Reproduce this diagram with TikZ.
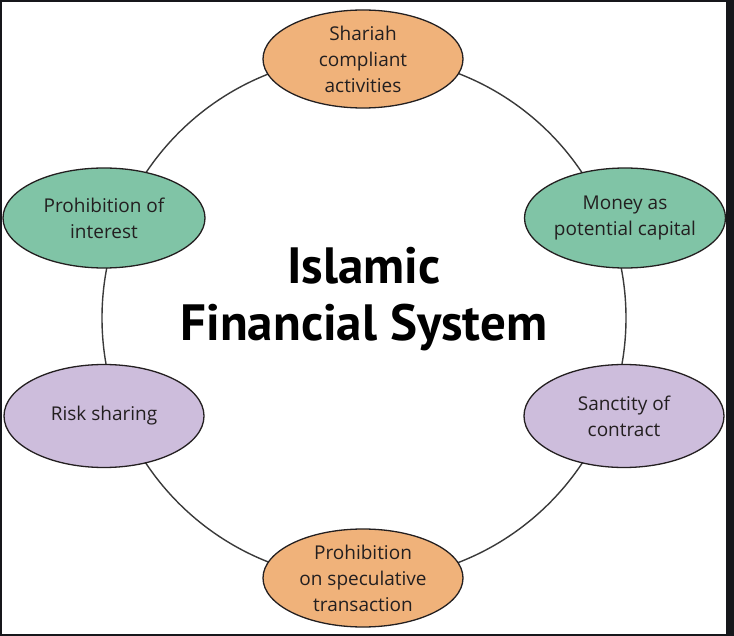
\documentclass[tikz,border=0pt]{standalone}
\usepackage{fontspec}
\setmainfont{Open Sans}
\newfontfamily\titlefont{PT Sans}
\usepackage{tikz}
\usetikzlibrary{shapes.geometric}
\definecolor{frame}   {HTML}{16171B}
\definecolor{ink}     {HTML}{231F20}
\definecolor{ringgray}{HTML}{3A3A3A}
\definecolor{orangefl}{HTML}{F0B27A}
\definecolor{greenfl} {HTML}{80C4A6}
\definecolor{lilacfl} {HTML}{CDBDDC}
\tikzset{
  pillar/.style  ={ellipse, draw=ink, line width=1.3pt,
                   minimum width=200pt, minimum height=100pt, inner sep=0pt,
                   align=center, text=ink, font=\fontsize{19}{26}\selectfont},
  orangep/.style ={pillar, fill=orangefl},
  greenp/.style  ={pillar, fill=greenfl},
  lilacp/.style  ={pillar, fill=lilacfl},
  titletext/.style={align=center, text=black, font=\titlefont\fontsize{51}{57}\selectfont\bfseries},
}
\begin{document}
\begin{tikzpicture}[x=1pt,y=-1pt]
    % frame
    \fill[frame] (0,0) rectangle (734,636);
    \fill[white] (2,2) rectangle (726,634);
    \useasboundingbox (0,0) rectangle (734,636);

    \coordinate (hub) at (364,318);
    \draw[ringgray, line width=1.4pt] (hub) circle (262);

    \node[titletext] (title) at (364,299) {Islamic\\Financial System};

    \node[orangep, minimum height=98pt] (shariah) at (363,59) {Shariah\\compliant\\activities};
    \node[greenp] (money) at (625,218) {Money as\\potential capital};
    \node[lilacp, minimum height=103pt] (sanctity) at (624,416) {Sanctity of\\contract};
    \node[orangep, minimum height=98pt] (specul) at (363,578) {Prohibition\\on speculative\\transaction};
    \node[lilacp, minimum height=103pt] (risk) at (104,416) {Risk sharing};
    \node[greenp, minimum width=202pt] (interest) at (104,218) {Prohibition of\\interest};
\end{tikzpicture}
\end{document}
